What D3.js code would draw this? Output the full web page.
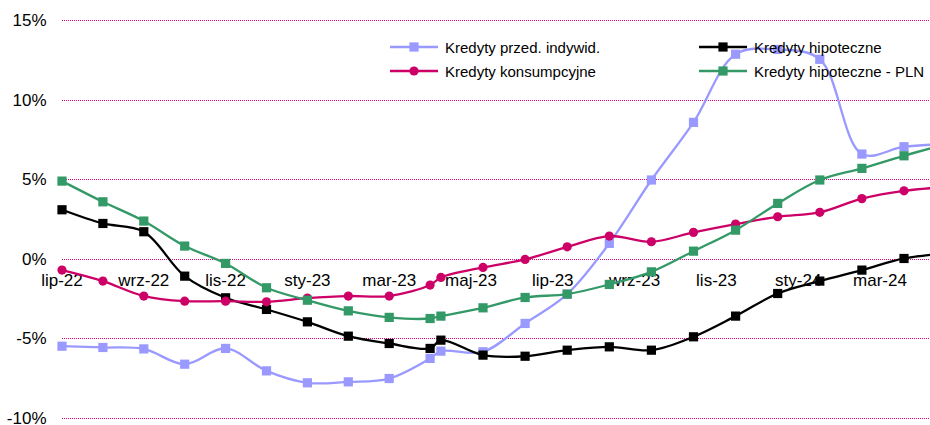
<!DOCTYPE html>
<html>
<head>
<meta charset="utf-8">
<script src="https://cdn.jsdelivr.net/npm/d3@7"></script>
<style>
body { margin: 0; background: #fff; }
svg { display: block; font-family: "Liberation Sans", Arial, sans-serif; }
</style>
</head>
<body>
<script>
// months on the category axis (lip-22 .. kwi-24)
var months = ["lip-22", "sie-22", "wrz-22", "paź-22", "lis-22", "gru-22",
    "sty-23", "lut-23", "mar-23", "kwi-23", "maj-23", "cze-23",
    "lip-23", "sie-23", "wrz-23", "paź-23", "lis-23", "gru-23",
    "sty-24", "lut-24", "mar-24", "kwi-24"];
var tickLabels = ["lip-22", "wrz-22", "lis-22", "sty-23", "mar-23", "maj-23",
    "lip-23", "wrz-23", "lis-23", "sty-24", "mar-24"];
var yTicks = [-10, -5, 0, 5, 10, 15];

// first part (lip-22 .. kwi-23) sits on the primary axis,
// second part (kwi-23 .. kwi-24) on the secondary one
var indywidA = [-5.49, -5.57, -5.66, -6.62, -5.63, -7.04, -7.79, -7.73, -7.52, -6.26];
var indywidB = [-5.80, -5.84, -4.06, -2.22, 0.97, 4.95, 8.57, 12.85, 13.15, 12.53, 6.58, 7.04, 7.21];
var hipoA = [3.08, 2.22, 1.70, -1.09, -2.45, -3.18, -3.96, -4.86, -5.32, -5.63];
var hipoB = [-5.11, -6.05, -6.12, -5.74, -5.53, -5.74, -4.90, -3.60, -2.18, -1.40, -0.71, 0.02, 0.35];
var konsA = [-0.71, -1.40, -2.34, -2.66, -2.66, -2.70, -2.47, -2.34, -2.34, -1.65];
var konsB = [-1.17, -0.54, -0.04, 0.75, 1.43, 1.07, 1.66, 2.18, 2.64, 2.92, 3.78, 4.27, 4.50];
var plnA = [4.88, 3.58, 2.37, 0.80, -0.29, -1.82, -2.60, -3.27, -3.68, -3.75];
var plnB = [-3.60, -3.08, -2.43, -2.22, -1.61, -0.82, 0.48, 1.80, 3.48, 4.95, 5.68, 6.47, 7.20];

var width = 930, height = 425;

var svg = d3.select("body").append("svg")
    .attr("width", width)
    .attr("height", height);

var left = 62, right = 930;

var xA = d3.scalePoint().domain(months).range([left, left + 40.9 * 21]);
var xB = d3.scalePoint().domain(months).range([left, left + 42.1 * 21]);
var y = d3.scaleLinear().domain([-10, 15]).range([418, 20]);

// gridlines
svg.append("g")
    .selectAll("line")
    .data(yTicks)
    .enter().append("line")
    .attr("x1", left)
    .attr("x2", right)
    .attr("y1", function (d) { return Math.round(y(d)) + 0.5; })
    .attr("y2", function (d) { return Math.round(y(d)) + 0.5; })
    .attr("stroke", "#e2007a")
    .attr("stroke-width", 1)
    .attr("stroke-dasharray", "1,1");

// y labels
svg.append("g")
    .selectAll("text")
    .data(yTicks)
    .enter().append("text")
    .attr("x", 46.5)
    .attr("y", function (d) { return y(d) + 6; })
    .attr("text-anchor", "end")
    .attr("font-size", 17)
    .attr("fill", "#000")
    .text(function (d) { return d + "%"; });

// x labels
svg.append("g")
    .selectAll("text")
    .data(tickLabels)
    .enter().append("text")
    .attr("x", function (d) { return xA(d); })
    .attr("y", 285.5)
    .attr("text-anchor", "middle")
    .attr("font-size", 17)
    .attr("fill", "#000")
    .text(function (d) { return d; });

var series = [
    { name: "Kredyty przed. indywid.", a: indywidA, b: indywidB, color: "#9999ff", marker: "square" },
    { name: "Kredyty hipoteczne", a: hipoA, b: hipoB, color: "#000000", marker: "square" },
    { name: "Kredyty konsumpcyjne", a: konsA, b: konsB, color: "#cc0066", marker: "circle" },
    { name: "Kredyty hipoteczne - PLN", a: plnA, b: plnB, color: "#339966", marker: "square" }
];

function points(s) {
    var pts = s.a.map(function (v, i) { return [xA(months[i]), y(v)]; });
    var start = s.a.length - 1;
    s.b.forEach(function (v, i) { pts.push([xB(months[start + i]), y(v)]); });
    return pts;
}

var line = d3.line().curve(d3.curveCatmullRom.alpha(0.5));

function drawMarker(g, m, cx, cy, color) {
    if (m === "circle") {
        g.append("circle").attr("cx", cx).attr("cy", cy).attr("r", 4.6).attr("fill", color);
    } else {
        g.append("rect").attr("x", cx - 4.6).attr("y", cy - 4.6)
            .attr("width", 9.2).attr("height", 9.2).attr("fill", color);
    }
}

series.forEach(function (s) {
    var g = svg.append("g");
    var pts = points(s);
    g.append("path")
        .attr("d", line(pts))
        .attr("fill", "none")
        .attr("stroke", s.color)
        .attr("stroke-width", 2.3);
    pts.forEach(function (p) { drawMarker(g, s.marker, p[0], p[1], s.color); });
});

// legend
var legendPos = [[390, 47], [699, 47], [390, 71], [699, 71]];
series.forEach(function (s, i) {
    var g = svg.append("g").attr("transform", "translate(" + legendPos[i][0] + "," + legendPos[i][1] + ")");
    g.append("line").attr("x1", 0).attr("x2", 48).attr("y1", 0).attr("y2", 0)
        .attr("stroke", s.color).attr("stroke-width", 2.3);
    drawMarker(g, s.marker, 24, 0, s.color);
    g.append("text")
        .attr("x", 55)
        .attr("y", 5.5)
        .attr("font-size", 15)
        .attr("fill", "#000")
        .text(s.name);
});
</script>
</body>
</html>
